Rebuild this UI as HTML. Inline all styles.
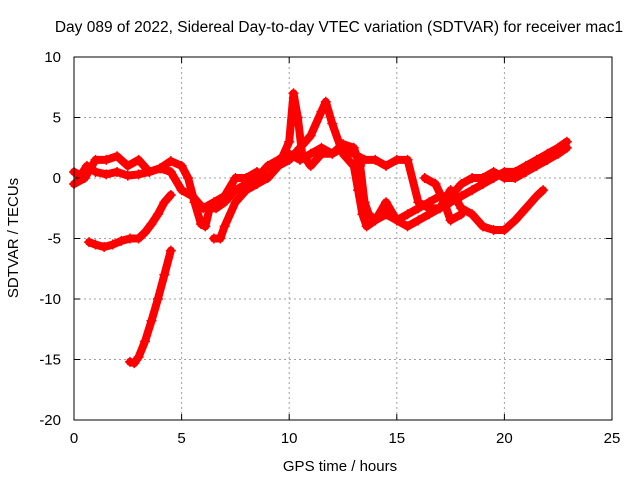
<!DOCTYPE html>
<html><head><meta charset="utf-8"><style>
body{margin:0;background:#fff;}
svg{display:block;font-family:"Liberation Sans",sans-serif;}
</style></head><body>
<svg id="chart" width="640" height="480">
<text x="339" y="32" font-size="15.5" text-anchor="middle">Day 089 of 2022, Sidereal Day-to-day VTEC variation (SDTVAR) for receiver mac1</text>
<text x="340" y="471" font-size="15" text-anchor="middle">GPS time / hours</text>
<text x="18" y="238" font-size="15" text-anchor="middle" transform="rotate(-90 18 238)">SDTVAR / TECUs</text>
<g id="grid"></g><g id="marks"></g><g id="axes"></g>
</svg>
<script>
const xTicks=[0,5,10,15,20,25];
const yTicks=[10,5,0,-5,-10,-15,-20];
const seriesA=[[2.6,-15.2],[2.8,-15.3],[3.0,-14.8],[3.3,-13.5],[3.6,-11.8],[3.9,-10],[4.2,-8],[4.5,-6]];
const seriesB=[[0.7,-5.3],[1.0,-5.5],[1.4,-5.7],[1.8,-5.5],[2.2,-5.2],[2.6,-5],[3.0,-5],[3.3,-4.5],[3.6,-3.8],[3.9,-3],[4.2,-2],[4.5,-1.4]];
const seriesC=[[0,0.5],[0.3,0.2],[0.6,1],[1,0.5],[1.5,0.3],[2,0.5],[2.5,0.2],[3,0.3],[3.5,0.5],[4,0.8],[4.5,1.4],[5,1],[5.3,0],[5.6,-2],[5.9,-3.8],[6.1,-4],[6.3,-2.5],[6.6,-2.5],[7,-2],[7.5,-1],[8,-0.5],[8.5,0],[9,1],[9.5,1.5],[10,2],[10.5,1.5],[11,2],[11.5,2.5],[12,2],[12.5,2.8],[13,2.5],[13.3,1],[13.5,-2],[13.7,-3],[14,-3.5],[14.5,-3],[15,-3.5],[15.5,-3],[16,-2.5],[16.5,-2],[17,-1.5],[17.5,-1.5],[18,-0.5],[18.5,0],[19,0],[19.5,0.5],[20,0],[20.5,0],[21,0.5],[21.5,1],[22,1.5],[22.5,2],[22.9,2.5]];
const seriesD=[[0,-0.5],[0.5,0],[1,1.5],[1.5,1.5],[2,1.8],[2.5,1],[3,1.5],[3.5,0.5],[4,0.8],[4.5,0.5],[5,-1],[5.5,-1.5],[6,-2.5],[6.5,-2],[7,-1.5],[7.5,0],[8,0],[8.5,0.5],[9,0],[9.5,1],[10,3],[10.2,7],[10.4,5],[10.6,2],[11,1],[11.5,2],[12,2],[12.5,2.5],[13,2],[13.5,1.5],[14,1.5],[14.5,1],[15,1.5],[15.5,1.5],[16,-2],[16.5,-2.5],[17,-2.5],[17.5,-1],[18,-2.5],[18.5,-3],[19,-4],[19.5,-4.3],[20,-4.3],[20.5,-3.5],[21,-2.5],[21.5,-1.5],[21.8,-1]];
const seriesE=[[6.5,-5],[6.8,-5],[7,-4],[7.5,-2],[8,-1],[8.5,-0.5],[9,0],[9.5,1],[10,1.5],[10.5,2.5],[11,3.5],[11.5,5.5],[11.7,6.3],[12,4.5],[12.5,2],[13,1],[13.2,-1],[13.4,-3],[13.6,-4],[14,-3.5],[14.5,-2],[15,-3.5],[15.5,-4],[16,-3.5],[16.5,-3],[17,-2.5],[17.5,-2],[18,-1.5],[18.5,-1],[19,-0.5],[19.5,0],[20,0.5],[20.5,0.5],[21,1],[21.5,1.5],[22,2],[22.5,2.5],[22.9,3]];
const seriesF=[[16.3,0],[16.8,-0.5],[17.2,-2],[17.5,-3.5],[18,-3]];
const allSeries=[seriesA,seriesB,seriesC,seriesD,seriesE,seriesF];

const L=74,R=612,T=57,B=420,xmin=0,xmax=25,ymin=-20,ymax=10;
const sx=v=>L+(v-xmin)/(xmax-xmin)*(R-L);
const sy=v=>B-(v-ymin)/(ymax-ymin)*(B-T);
const NS='http://www.w3.org/2000/svg';
function mk(tag,attrs,parent){const e=document.createElementNS(NS,tag);for(const k in attrs)e.setAttribute(k,attrs[k]);parent.appendChild(e);return e;}
const grid=document.getElementById('grid'),marks=document.getElementById('marks'),axes=document.getElementById('axes');
xTicks.forEach(t=>{
  const x=sx(t);
  if(t>xmin&&t<xmax){const g=mk('line',{x1:x,x2:x,y1:T,y2:B,stroke:'#a0a0a0','stroke-dasharray':'2,3'},grid);
  
  }
  mk('line',{x1:x,x2:x,y1:B,y2:B-6,stroke:'#000'},axes);
  mk('line',{x1:x,x2:x,y1:T,y2:T+6,stroke:'#000'},axes);
  const tx=mk('text',{x:x,y:B+23,'font-size':15,'text-anchor':'middle'},axes);tx.textContent=t;
  
  
});
yTicks.forEach(t=>{
  const y=sy(t);
  if(t>ymin&&t<ymax){const g=mk('line',{x1:L,x2:R,y1:y,y2:y,stroke:'#a0a0a0','stroke-dasharray':'2,3'},grid);
  
  }
  mk('line',{x1:L,x2:L+6,y1:y,y2:y,stroke:'#000'},axes);
  mk('line',{x1:R,x2:R-6,y1:y,y2:y,stroke:'#000'},axes);
  const tx=mk('text',{x:L-13,y:y+5,'font-size':15,'text-anchor':'end'},axes);tx.textContent=t;
  
  
});
const border=mk('rect',{x:L,y:T,width:R-L,height:B-T,fill:'none',stroke:'#000'},axes);


allSeries.forEach((s,i)=>{
  const pts=s.map(p=>sx(p[0]).toFixed(1)+','+sy(p[1]).toFixed(1)).join(' ');
  const pl=mk('polyline',{points:pts,fill:'none',stroke:'#ff0000','stroke-width':8,'stroke-linejoin':'round','stroke-linecap':'round'},marks);
  
  
  s.forEach(p=>{
    const x=sx(p[0]),y=sy(p[1]);
    const m=mk('path',{d:`M${x-5},${y}H${x+5}M${x},${y-5}V${y+5}`,stroke:'#ff0000','stroke-width':1.5},marks);
    
    
  });
});
</script>
</body></html>
